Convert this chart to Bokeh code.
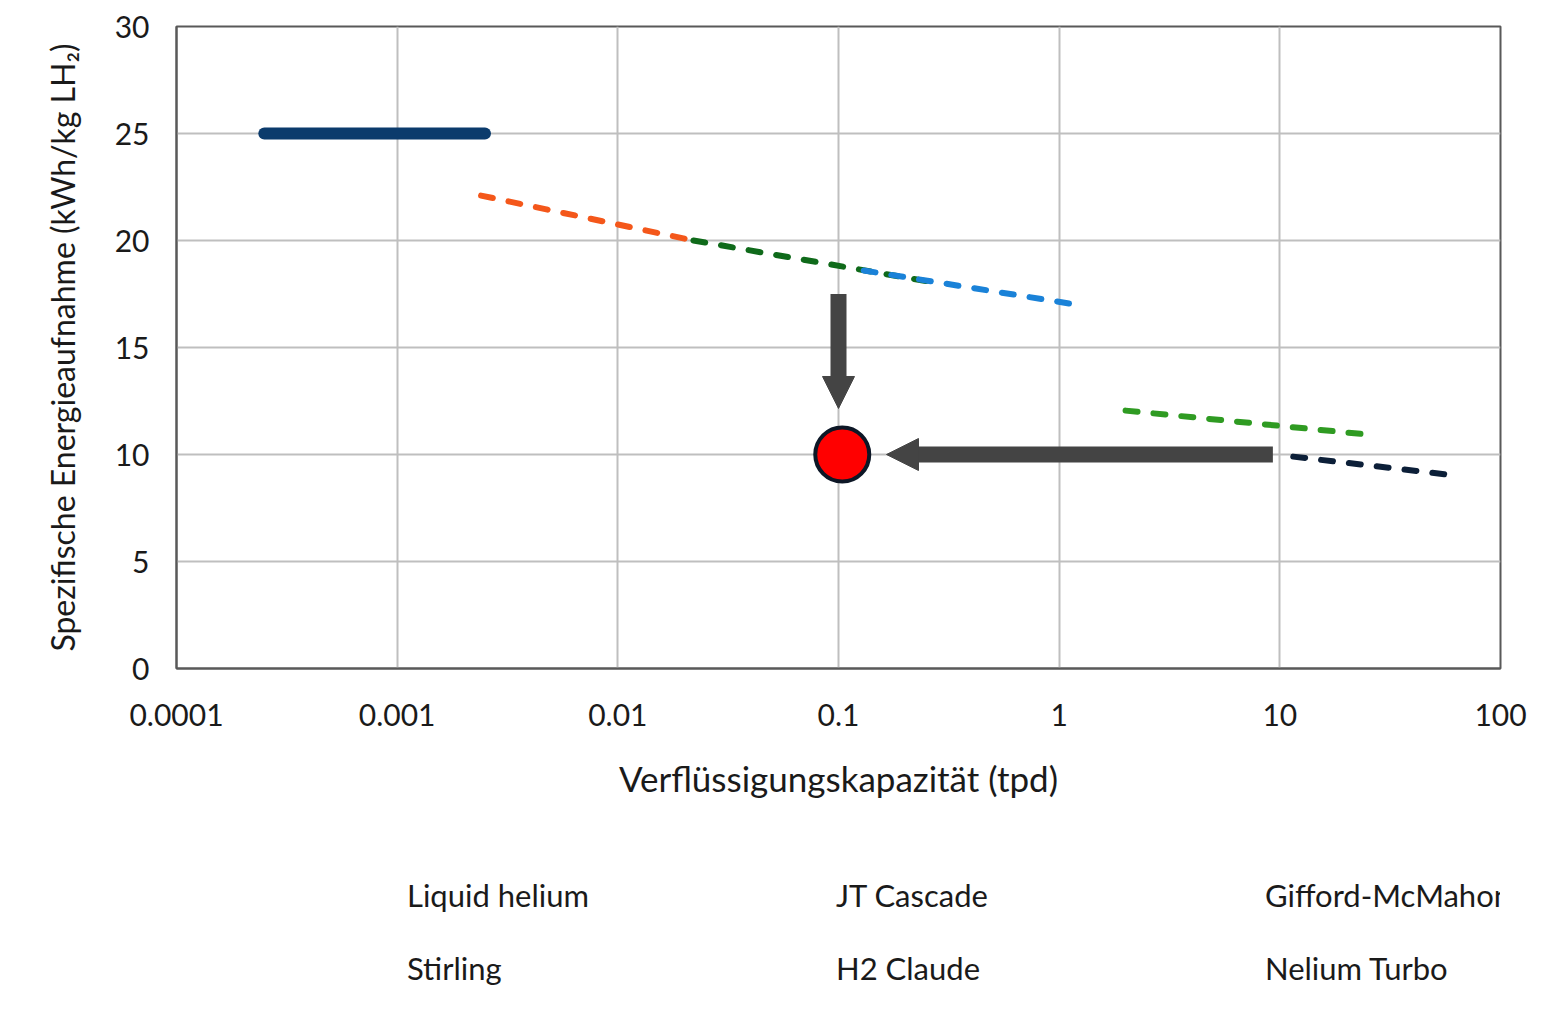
from bokeh.plotting import figure
from bokeh.layouts import column
from bokeh.models import (FixedTicker, CustomJSTickFormatter, Arrow, NormalHead,
                          Legend, LegendItem)
from bokeh.embed import file_html
from bokeh.resources import INLINE

# ---------------- data ----------------
x_ticks = [0.0001, 0.001, 0.01, 0.1, 1, 10, 100]
x_tick_labels = ["0.0001", "0.001", "0.01", "0.1", "1", "10", "100"]
y_ticks = [0, 5, 10, 15, 20, 25, 30]

helium_x = [0.00025, 0.0025]
helium_y = [25.0, 25.0]
jt_x = [0.0024, 0.022]
jt_y = [22.1, 20.0]
gm_x = [0.022, 0.25]
gm_y = [20.0, 18.1]
stirling_x = [0.13, 1.2]
stirling_y = [18.6, 17.0]
claude_x = [2.0, 24.0]
claude_y = [12.05, 10.95]
nelium_x = [11.5, 65.0]
nelium_y = [9.9, 9.0]

target_x = [0.104]
target_y = [10.0]

arrow_down = dict(x0=0.1, y0=17.5, x1=0.1, y1=12.15)
arrow_left = dict(x0=9.3, y0=10.0, x1=0.165, y1=10.0)

series_names = ["Liquid helium", "JT Cascade", "Gifford-McMahon",
                "Stirling", "H2 Claude", "Nelium Turbo"]

FONT = "Lato"
TXT = "#1a1a1a"

p = figure(width=1540, height=815, x_axis_type="log",
           x_range=(0.0001, 100), y_range=(0, 30),
           output_backend="svg", toolbar_location=None,
           min_border_left=176, min_border_right=40,
           min_border_top=26, min_border_bottom=147,
           background_fill_color="white", border_fill_color="white")

p.outline_line_color = "#595959"
p.outline_line_width = 2

xt = FixedTicker(ticks=x_ticks, minor_ticks=[])
p.xaxis.ticker = xt
p.xaxis.formatter = CustomJSTickFormatter(
    args=dict(tvals=x_ticks, tlabels=x_tick_labels),
    code="""
    for (let i = 0; i < tvals.length; i++) {
        if (Math.abs(Math.log10(tvals[i]) - Math.log10(tick)) < 1e-6) return tlabels[i];
    }
    return '';
    """)
p.yaxis.ticker = FixedTicker(ticks=y_ticks, minor_ticks=[])
p.xgrid.ticker = xt
p.ygrid.ticker = FixedTicker(ticks=y_ticks, minor_ticks=[])

for ax in (p.xaxis[0], p.yaxis[0]):
    ax.axis_line_color = "#595959"
    ax.axis_line_width = 2
    ax.major_tick_line_color = None
    ax.minor_tick_line_color = None
    ax.major_tick_out = 0
    ax.major_tick_in = 0
    ax.minor_tick_out = 0
    ax.major_label_text_font = FONT
    ax.major_label_text_font_size = "30px"
    ax.major_label_text_color = TXT
    ax.axis_label_text_font = FONT
    ax.axis_label_text_font_style = "normal"
    ax.axis_label_text_color = TXT

p.xaxis.major_label_standoff = 35
p.yaxis.major_label_standoff = 27
p.xaxis.axis_label = "Verflüssigungskapazität (tpd)"
p.xaxis.axis_label_text_font_size = "35px"
p.xaxis.axis_label_standoff = 28
p.yaxis.axis_label = "Spezifische Energieaufnahme (kWh/kg LH₂)"
p.yaxis.axis_label_text_font_size = "32px"
p.yaxis.axis_label_standoff = 30

for g in (p.xgrid[0], p.ygrid[0]):
    g.grid_line_color = "#bfbfbf"
    g.grid_line_width = 2

# ---------------- series ----------------
LW = 6
styles = [
    dict(line_color="#0b3b6c", line_width=12, line_cap="round"),
    dict(line_color="#f4571a", line_width=LW, line_dash="12 16", line_cap="round"),
    dict(line_color="#0f6a1a", line_width=LW, line_dash="12 16", line_cap="round"),
    dict(line_color="#1a82d8", line_width=LW, line_dash="12 16", line_cap="round"),
    dict(line_color="#2f9b22", line_width=LW, line_dash="12 16", line_cap="round"),
    dict(line_color="#0c1f38", line_width=LW, line_dash="12 16", line_cap="round"),
]
series = [(helium_x, helium_y), (jt_x, jt_y), (gm_x, gm_y),
          (stirling_x, stirling_y), (claude_x, claude_y), (nelium_x, nelium_y)]
for (xs, ys), st in zip(series, styles):
    p.line(xs, ys, **st)

# arrows
ac = "#444444"
for a in (arrow_down, arrow_left):
    p.add_layout(Arrow(end=NormalHead(size=32, fill_color=ac, line_color=ac, line_width=1),
                       x_start=a["x0"], y_start=a["y0"], x_end=a["x1"], y_end=a["y1"],
                       line_color=ac, line_width=16))

p.scatter(target_x, target_y, size=54, fill_color="#ff0000", line_color="#0d1726", line_width=4)

# ---------------- legend (separate strip below the chart) ----------------
lg = figure(width=1540, height=190, x_range=(0, 1), y_range=(0, 1),
            output_backend="svg", toolbar_location=None, min_border=0,
            x_axis_location=None, y_axis_location=None,
            background_fill_color="white", border_fill_color="white")
lg.outline_line_color = None
lg.grid.visible = False

items = []
for name, st in zip(series_names, styles):
    r = lg.line(x=[], y=[], **st)   # legend key only, no data drawn
    items.append(LegendItem(label=name, renderers=[r]))

legend = Legend(items=items, location=(88, 18), ncols=3, orientation="horizontal",
                glyph_width=125, glyph_height=20, label_standoff=18,
                label_width=251, label_height=20, spacing=35,
                padding=0, margin=0, border_line_color=None, background_fill_alpha=0,
                label_text_font=FONT, label_text_font_size="31px", label_text_color=TXT)
lg.add_layout(legend)

layout = column(p, lg, spacing=0)
open("out.html", "w").write(file_html(layout, INLINE))
